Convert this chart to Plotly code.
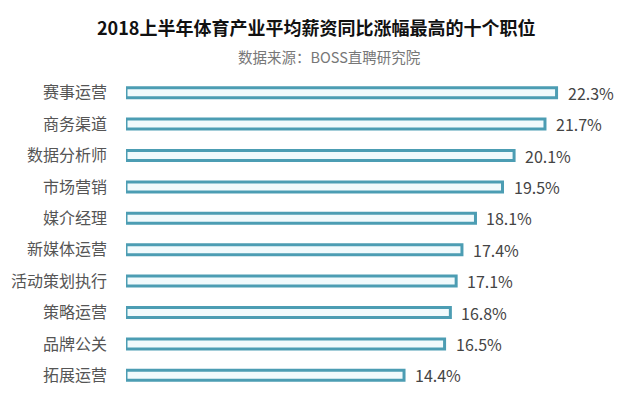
import plotly.graph_objects as go

categories = ["赛事运营", "商务渠道", "数据分析师", "市场营销", "媒介经理",
              "新媒体运营", "活动策划执行", "策略运营", "品牌公关", "拓展运营"]
values = [22.3, 21.7, 20.1, 19.5, 18.1, 17.4, 17.1, 16.8, 16.5, 14.4]
value_labels = [f"{v}%" for v in values]

title_text = "2018上半年体育产业平均薪资同比涨幅最高的十个职位"
source_text = "数据来源：BOSS直聘研究院"

FONT = "Noto Sans CJK SC, Noto Sans, sans-serif"

fig = go.Figure()
fig.add_trace(go.Bar(
    x=values,
    y=categories,
    orientation="h",
    width=0.32,
    marker=dict(color="#f1fafc", line=dict(color="#4c9db3", width=3)),
    hoverinfo="skip",
))

# value labels just right of each bar
for cat, v, lab in zip(categories, values, value_labels):
    fig.add_annotation(
        x=v, y=cat, text=lab, showarrow=False,
        xanchor="left", xshift=9,
        font=dict(family=FONT, size=16, color="#444444"),
    )

# title + source line
fig.add_annotation(
    x=0.378, y=1.16, xref="paper", yref="paper", text="<b>" + title_text + "</b>",
    showarrow=False, xanchor="center", yanchor="middle",
    font=dict(family=FONT, size=18, color="#111111"),
)
fig.add_annotation(
    x=0.405, y=1.065, xref="paper", yref="paper", text=source_text,
    showarrow=False, xanchor="center", yanchor="middle",
    font=dict(family=FONT, size=14.5, color="#777777"),
)

# page body adds an 8px margin, so the figure is a bit smaller than the window
fig.update_layout(
    width=624, height=402,
    margin=dict(l=118, r=4, t=69, b=19),
    paper_bgcolor="white", plot_bgcolor="white",
    showlegend=False,
    xaxis=dict(range=[0, 26], visible=False, fixedrange=True, automargin=False),
    yaxis=dict(
        autorange="reversed", showgrid=False, zeroline=False, showline=False,
        ticks="", ticklabelstandoff=18, automargin=False,
        tickfont=dict(family=FONT, size=16, color="#555555"),
    ),
)

fig.write_html("out.html")
